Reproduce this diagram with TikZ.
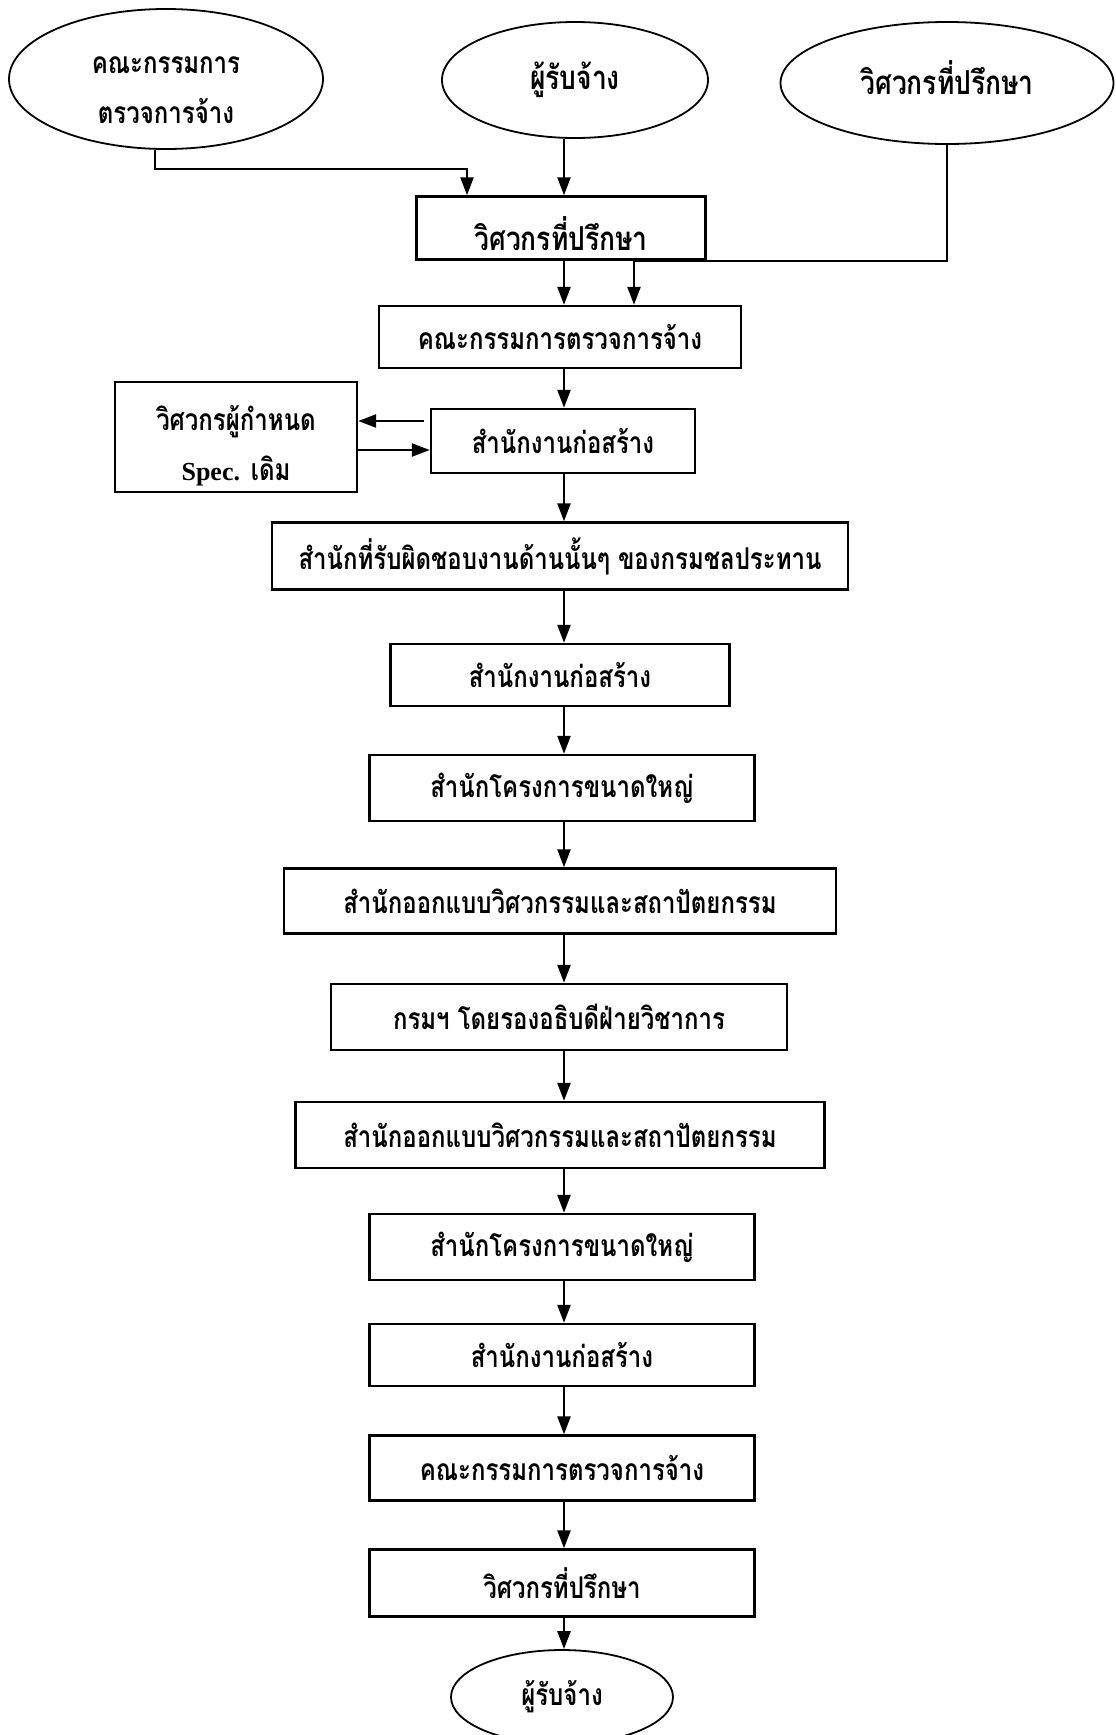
\documentclass[tikz,border=0pt]{standalone}
\usepackage{fontspec}
\newfontfamily\thai[Script=Thai,FakeStretch=0.8]{Loma}
\newfontfamily\latin{Liberation Serif}
\usetikzlibrary{arrows.meta,shapes.geometric}

\begin{document}
\begin{tikzpicture}[x=0.5pt,y=-0.5pt,
  txt/.style={font=\thai\bfseries\fontsize{15}{18}\selectfont},
  big/.style={font=\thai\bfseries\fontsize{16.5}{20}\selectfont},
  box/.style 2 args={draw, line width=1.2pt, inner sep=0pt, align=center,
    minimum width=#1*0.5pt, minimum height=#2*0.5pt},
  oval/.style 2 args={draw, ellipse, line width=0.9pt, inner sep=0pt, align=center,
    minimum width=#1*0.5pt, minimum height=#2*0.5pt},
  arr/.style={-{Triangle[length=9pt,width=6.5pt]}, line width=1.2pt},
  lbl/.style={inner sep=0pt, align=center}]

\useasboundingbox[fill=white] (0,0) rectangle (1115,1735);

% spine of the main flow and side junctions
\coordinate (sp) at (564,0);
\coordinate (j1) at (467,169);
\coordinate (rj) at (634,0);
\coordinate (ya) at (0,421);
\coordinate (yb) at (0,450);

% top sources
\node[oval={314}{140}] (e1) at (166,79) {};
\node[lbl, txt] (e1t) at (166,90) {คณะกรรมการ\\[7pt]ตรวจการจ้าง};
\node[oval={266}{116}, big] (e2) at (575,80) {ผู้รับจ้าง};
\node[oval={333}{122}] (e3) at (947,83) {};
\node[lbl, big] (e3t) at (947,78) {วิศวกรที่ปรึกษา};

% main chain of boxes
\node[box={289}{63}] (b1) at (561,228) {};
\node[lbl, big] (b1t) at (561,234) {วิศวกรที่ปรึกษา};
\node[box={362}{62}, txt] (b2) at (560,337) {คณะกรรมการตรวจการจ้าง};
\node[box={264}{64}, txt] (b3) at (563,441) {สำนักงานก่อสร้าง};
\node[box={242}{110}] (sd) at (236,437) {};
\node[lbl, txt] (sdt) at (236,446) {วิศวกรผู้กำหนด\\[7pt]{\latin\bfseries\fontsize{13}{16}\selectfont Spec.} เดิม};
\node[box={576}{67}, txt] (b4) at (560,556) {สำนักที่รับผิดชอบงานด้านนั้นๆ ของกรมชลประทาน};
\node[box={339}{62}, txt] (b5) at (560,675) {สำนักงานก่อสร้าง};
\node[box={385}{66}, txt] (b6) at (562,788) {สำนักโครงการขนาดใหญ่};
\node[box={552}{65}, txt] (b7) at (560,901) {สำนักออกแบบวิศวกรรมและสถาปัตยกรรม};
\node[box={456}{66}, txt] (b8) at (559,1017) {กรมฯ โดยรองอธิบดีฝ่ายวิชาการ};
\node[box={529}{66}, txt] (b9) at (560,1135) {สำนักออกแบบวิศวกรรมและสถาปัตยกรรม};
\node[box={385}{66}, txt] (b10) at (562,1247) {สำนักโครงการขนาดใหญ่};
\node[box={385}{62}, txt] (b11) at (562,1355) {สำนักงานก่อสร้าง};
\node[box={385}{65}, txt] (b12) at (562,1468) {คณะกรรมการตรวจการจ้าง};
\node[box={385}{67}, txt] (b13) at (562,1583) {วิศวกรที่ปรึกษา};
\node[oval={222}{94}, txt] (e4) at (562,1697) {ผู้รับจ้าง};

% connectors from the sources
\draw[arr] ([xshift=-5.5pt]e1.south) |- (j1) -- (j1 |- b1.north);
\draw[arr] (e2.south -| sp) -- (b1.north -| sp);
\draw[arr] (e3.south) |- (b1.south -| rj) -- (b2.north -| rj);

% main flow
\draw[arr] (b1.south -| sp) -- (b2.north -| sp);
\draw[arr] (b2.south -| sp) -- (b3.north -| sp);
\draw[arr] ([xshift=-3pt]b3.west |- ya) -- (sd.east |- ya);
\draw[arr] (sd.east |- yb) -- (b3.west |- yb);
\draw[arr] (b3.south -| sp) -- (b4.north -| sp);
\draw[arr] (b4.south -| sp) -- (b5.north -| sp);
\draw[arr] (b5.south -| sp) -- (b6.north -| sp);
\draw[arr] (b6.south -| sp) -- (b7.north -| sp);
\draw[arr] (b7.south -| sp) -- (b8.north -| sp);
\draw[arr] (b8.south -| sp) -- (b9.north -| sp);
\draw[arr] (b9.south -| sp) -- (b10.north -| sp);
\draw[arr] (b10.south -| sp) -- (b11.north -| sp);
\draw[arr] (b11.south -| sp) -- (b12.north -| sp);
\draw[arr] (b12.south -| sp) -- (b13.north -| sp);
\draw[arr] (b13.south -| sp) -- (e4.north -| sp);
\end{tikzpicture}
\end{document}
